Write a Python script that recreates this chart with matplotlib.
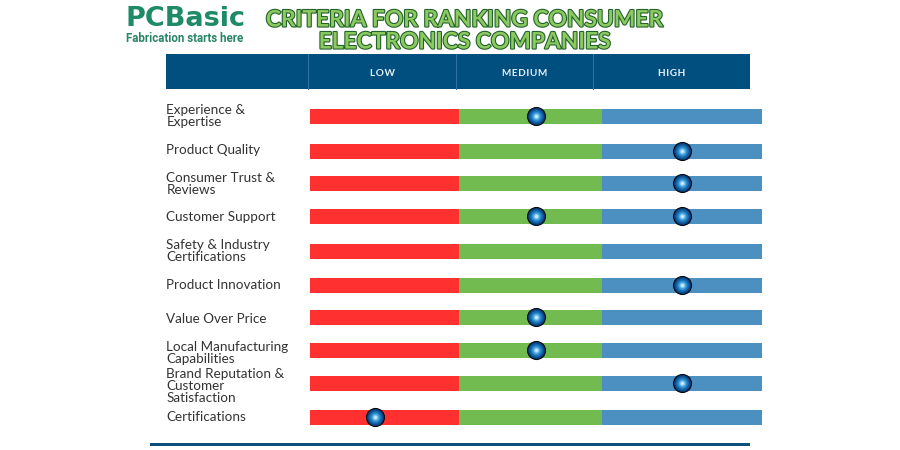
import matplotlib
matplotlib.use("Agg")
import matplotlib.pyplot as plt
import matplotlib.patheffects as pe
from matplotlib.patches import Rectangle

criteria = ["Experience &\nExpertise", "Product Quality", "Consumer Trust &\nReviews", "Customer Support",
            "Safety & Industry\nCertifications", "Product Innovation", "Value Over Price",
            "Local Manufacturing\nCapabilities", "Brand Reputation &\nCustomer\nSatisfaction", "Certifications"]
row_y = [116.5, 151.5, 183.5, 216.5, 251.5, 285.5, 317.5, 350.5, 383.5, 417.5]
label_y = [116, 150, 184, 217, 251, 285, 319, 353, 386, 417]
levels = ["LOW", "MEDIUM", "HIGH"]
level_x = [382, 525, 672]
seg_start = [310, 459, 602]
seg_width = [149, 143, 160]
seg_colors = ["#FF3030", "#72BB50", "#4C90C2"]
dot_row = [0, 1, 2, 3, 3, 5, 6, 7, 8, 9]
dot_x = [536, 682, 682, 536, 682, 682, 536, 536, 682, 375]
seps = [308, 456, 593]

plt.rcParams['font.family'] = ['Lato', 'DejaVu Sans']
fig = plt.figure(figsize=(9, 4.5), dpi=100)
ax = fig.add_axes([0, 0, 1, 1])
ax.set_xlim(0, 900)
ax.set_ylim(450, 0)
ax.axis("off")

# header
ax.add_patch(Rectangle((166, 54), 584, 35, color="#004F7F", lw=0))
for s in seps:
    ax.plot([s, s], [54, 89], color="#2F72A0", lw=0.8)
for t, x in zip(levels, level_x):
    ax.text(x, 73.5, "\u200a".join(t), color="#E6F0F8", fontsize=7.2, weight="bold",
            ha="center", va="center")

# bars
for y in row_y:
    ax.barh([y] * 3, seg_width, left=seg_start, height=15.5, color=seg_colors, lw=0)

# labels
for lab, y in zip(criteria, label_y):
    ax.text(166.5, y, lab, fontsize=9.7, color="#333333", ha="left", va="center", linespacing=0.98)

# gradient dots built from concentric circles
xs = dot_x
ys = [row_y[i] - 1 for i in dot_row]
ax.scatter(xs, ys, s=190, color="#060A12", zorder=3, lw=0)
shades = [(150, "#0A3A70"), (120, "#0E4E8E"), (92, "#1361A6"), (68, "#1A76BC"),
          (46, "#2C8DCE"), (28, "#4CA6DE"), (14, "#86C8EC"), (5, "#C8E8F8")]
for s, c in shades:
    ax.scatter(xs, ys, s=s, color=c, zorder=4, lw=0)

# bottom rule
ax.add_patch(Rectangle((150, 443), 600, 3.2, color="#0B4F7C", lw=0))

# title
stroke = [pe.withStroke(linewidth=1.6, foreground="#22622C")]
for t, y in zip(["CRITERIA FOR RANKING CONSUMER", "ELECTRONICS COMPANIES"], [20, 42]):
    ax.text(465, y, t, fontsize=16.4, weight="bold", color="#8CC95F", ha="center", va="center",
            path_effects=stroke)

# logo
ax.text(126, 19, "PCBasic", fontsize=19.5, weight="bold", color="#1E8A66", ha="left", va="center",
        family=['DejaVu Sans'])
ax.text(126.5, 39, "Fabrication starts here", fontsize=8.3, weight="bold", color="#2A8568", ha="left", va="center",
        family=['Roboto', 'DejaVu Sans'])

fig.savefig("out.png", dpi=100)
